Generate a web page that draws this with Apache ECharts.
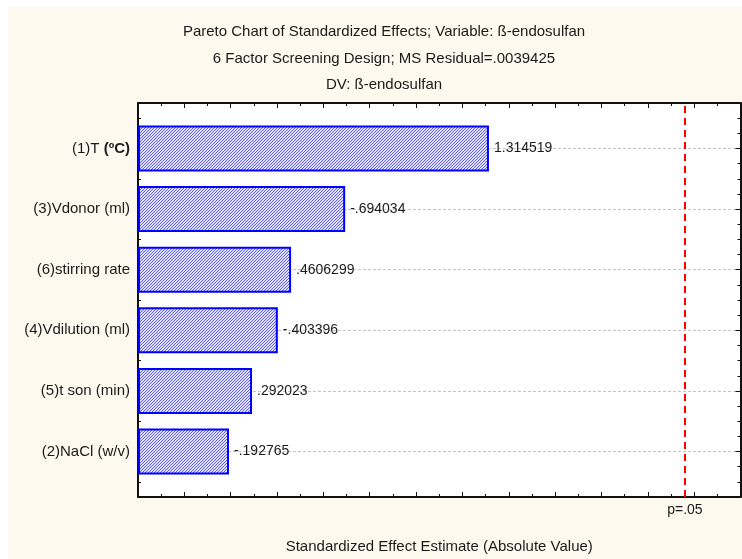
<!DOCTYPE html>
<html>
<head>
<meta charset="utf-8">
<script src="https://cdn.jsdelivr.net/npm/echarts@6/dist/echarts.min.js"></script>
<style>
  html, body { margin: 0; padding: 0; background: #ffffff; }
  #chart { position: absolute; left: 8px; top: 7px; width: 734px; height: 552px; }
</style>
</head>
<body>
<div id="chart"></div>
<script>
// effects, sorted by absolute size (top to bottom)
const factors = [
  "(1)T (ºC)",
  "(3)Vdonor (ml)",
  "(6)stirring rate",
  "(4)Vdilution (ml)",
  "(5)t son (min)",
  "(2)NaCl (w/v)",
];
const effects = [1.314519, -0.694034, 0.4606299, -0.403396, 0.292023, -0.192765];
const pCritical = 2.1604; // p=.05
const pLabel = "p=.05";

const X_MIN = -0.2;
const X_MAX = 2.4;
const Y_MIN = 0.25;
const Y_MAX = 6.75;

const chart = echarts.init(document.getElementById("chart"), null, { renderer: "canvas" });

// hatched fill for the bars
const hatch = document.createElement("canvas");
hatch.width = 3;
hatch.height = 3;
const hctx = hatch.getContext("2d");
hctx.fillStyle = "#e4e4ff";
hctx.fillRect(0, 0, 3, 3);
hctx.fillStyle = "#5656ff";
for (let y = 0; y < 3; y++) {
  hctx.fillRect(2 - y, y, 1, 1);
}

const fmt = (v) => String(v).replace(/^(-?)0\./, "$1.");
const font = "Liberation Sans, Arial, sans-serif";

const frameTicks = {
  axisLine: { show: true, onZero: false, lineStyle: { color: "#111", width: 2 } },
  axisLabel: { show: false },
  splitLine: { show: false },
};

const option = {
  backgroundColor: "#fdf9ee",
  animation: false,
  title: {
    text: "Pareto Chart of Standardized Effects; Variable: ß-endosulfan\n6 Factor Screening Design; MS Residual=.0039425\nDV: ß-endosulfan",
    left: 376,
    top: 12,
    padding: 0,
    textAlign: "center",
    textStyle: { fontFamily: font, fontSize: 15, fontWeight: "normal", color: "#1a1a1a", lineHeight: 26.5 },
  },
  grid: [
    { left: 130, right: 1.5, top: 96, bottom: 62, show: true, backgroundColor: "#ffffff", borderWidth: 0 },
    { left: 130, right: 1.5, top: 111.15, bottom: 77.15 },
  ],
  xAxis: [
    {
      gridIndex: 0, type: "value", position: "bottom",
      min: X_MIN, max: X_MAX, interval: 0.2,
      ...frameTicks,
      axisTick: { show: true, inside: true, length: 5, lineStyle: { color: "#111" } },
      minorTick: { show: true, splitNumber: 2, length: 3, lineStyle: { color: "#111" } },
      name: "Standardized Effect Estimate (Absolute Value)",
      nameLocation: "middle",
      nameGap: 42,
      nameTextStyle: { fontFamily: font, fontSize: 15, color: "#1a1a1a" },
    },
    {
      gridIndex: 0, type: "value", position: "top",
      min: X_MIN, max: X_MAX, interval: 0.2,
      ...frameTicks,
      axisTick: { show: true, inside: true, length: 5, lineStyle: { color: "#111" } },
      minorTick: { show: true, splitNumber: 2, length: 3, lineStyle: { color: "#111" } },
    },
    {
      gridIndex: 1, type: "value",
      min: 0, max: X_MAX - X_MIN,
      show: false,
    },
  ],
  yAxis: [
    {
      gridIndex: 0, type: "value", position: "left",
      min: Y_MIN, max: Y_MAX, interval: 0.25,
      ...frameTicks,
      axisTick: { show: true, inside: true, length: 3, lineStyle: { color: "#111" } },
    },
    {
      gridIndex: 0, type: "value", position: "right",
      min: Y_MIN, max: Y_MAX, interval: 0.25,
      ...frameTicks,
      axisTick: { show: true, inside: true, length: 3, lineStyle: { color: "#111" } },
    },
    {
      gridIndex: 1, type: "category", position: "left", inverse: true,
      data: factors,
      axisLine: { show: false },
      axisTick: { show: true, inside: true, alignWithLabel: true, interval: 0, length: 5, lineStyle: { color: "#111" } },
      splitLine: { show: true, alignWithLabel: true, interval: 0, lineStyle: { color: "#c4c4c4", type: [3, 2], width: 1 } },
      axisLabel: {
        margin: 8,
        interval: 0,
        fontFamily: font,
        fontSize: 15,
        color: "#1a1a1a",
        formatter: (v) => v.replace("(ºC)", "{b|(ºC)}"),
        rich: { b: { fontFamily: font, fontSize: 15, fontWeight: "bold", color: "#1a1a1a" } },
      },
    },
    {
      gridIndex: 1, type: "category", position: "right", inverse: true,
      data: factors,
      axisLine: { show: false },
      axisTick: { show: true, inside: true, alignWithLabel: true, interval: 0, length: 5, lineStyle: { color: "#111" } },
      axisLabel: { show: false },
      splitLine: { show: false },
    },
  ],
  series: [
    {
      type: "bar",
      xAxisIndex: 2,
      yAxisIndex: 2,
      barWidth: "76%",
      data: effects.map((v) => Math.abs(v) - X_MIN),
      itemStyle: {
        color: { image: hatch, repeat: "repeat" },
        borderColor: "#0000ff",
        borderWidth: 2,
      },
      label: {
        show: true,
        position: "right",
        distance: 5,
        fontFamily: font,
        fontSize: 14,
        color: "#1a1a1a",
        formatter: (p) => fmt(effects[p.dataIndex]),
      },
      z: 3,
    },
    {
      type: "line",
      xAxisIndex: 0,
      yAxisIndex: 0,
      data: [],
      markLine: {
        silent: true,
        symbol: "none",
        animation: false,
        lineStyle: { color: "#ff0000", width: 2, type: [7, 5] },
        label: {
          show: true,
          position: "start",
          distance: 6,
          formatter: pLabel,
          fontFamily: font,
          fontSize: 14,
          color: "#1a1a1a",
        },
        data: [{ xAxis: pCritical }],
      },
      z: 4,
    },
  ],
};

chart.setOption(option);

window.addEventListener("resize", () => chart.resize());
</script>
</body>
</html>
